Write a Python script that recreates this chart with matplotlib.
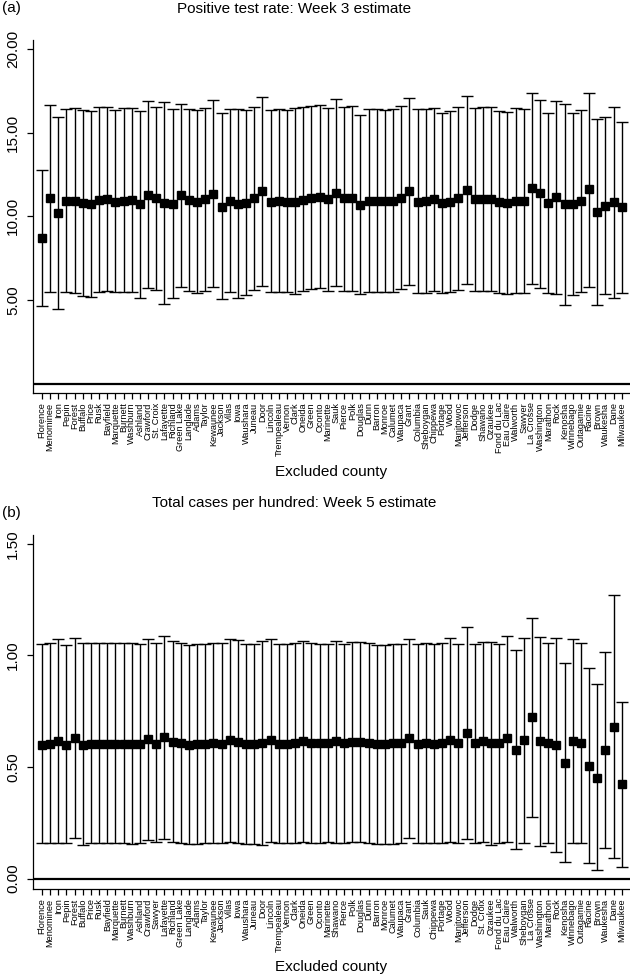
"""
Leave-one-county-out estimates with 95% intervals (two panels).
Writes out.png.
"""

import matplotlib
matplotlib.use("Agg")
import matplotlib.pyplot as plt


counties_a = [
    "Florence", "Menominee", "Iron", "Pepin", "Forest", "Buffalo", "Price", "Rusk",
    "Bayfield", "Marquette", "Burnett", "Washburn", "Ashland", "Crawford", "St. Croix",
    "Lafayette", "Richland", "Green Lake", "Langlade", "Adams", "Taylor", "Kewaunee",
    "Jackson", "Vilas", "Iowa", "Waushara", "Juneau", "Door", "Lincoln", "Trempealeau",
    "Vernon", "Clark", "Oneida", "Green", "Oconto", "Marinette", "Sauk", "Pierce", "Polk",
    "Douglas", "Dunn", "Barron", "Monroe", "Calumet", "Waupaca", "Grant", "Columbia",
    "Sheboygan", "Chippewa", "Portage", "Wood", "Manitowoc", "Jefferson", "Dodge",
    "Shawano", "Ozaukee", "Fond du Lac", "Eau Claire", "Walworth", "Sawyer", "La Crosse",
    "Washington", "Marathon", "Rock", "Kenosha", "Winnebago", "Outagamie", "Racine",
    "Brown", "Waukesha", "Dane", "Milwaukee",
]

est_a = [
    8.73, 11.08, 10.18, 10.94, 10.94, 10.78, 10.74, 10.98, 11.02, 10.88,
    10.94, 10.98, 10.72, 11.28, 11.12, 10.78, 10.72, 11.28, 10.98, 10.84,
    11.02, 11.32, 10.58, 10.94, 10.74, 10.82, 11.08, 11.54, 10.88, 10.92,
    10.88, 10.84, 10.98, 11.12, 11.16, 11.02, 11.42, 11.08, 11.08, 10.70,
    10.94, 10.94, 10.92, 10.92, 11.12, 11.52, 10.88, 10.92, 11.02, 10.82,
    10.88, 11.08, 11.58, 11.02, 11.02, 11.02, 10.88, 10.82, 10.92, 10.92,
    11.68, 11.38, 10.82, 11.18, 10.72, 10.74, 10.92, 11.62, 10.28, 10.62,
    10.88, 10.54,
]

upper_a = [
    12.77, 16.66, 15.96, 16.42, 16.46, 16.36, 16.30, 16.52, 16.52, 16.36,
    16.46, 16.46, 16.30, 16.90, 16.52, 16.82, 16.42, 16.72, 16.42, 16.36,
    16.50, 16.96, 16.16, 16.42, 16.42, 16.38, 16.52, 17.16, 16.36, 16.42,
    16.36, 16.50, 16.54, 16.60, 16.66, 16.50, 17.00, 16.52, 16.60, 16.06,
    16.44, 16.42, 16.36, 16.40, 16.62, 17.06, 16.42, 16.44, 16.46, 16.20,
    16.30, 16.52, 17.20, 16.46, 16.56, 16.52, 16.32, 16.24, 16.46, 16.44,
    17.36, 16.98, 16.16, 16.92, 16.72, 16.20, 16.36, 17.36, 15.84, 15.92,
    16.56, 15.64,
]

lower_a = [
    4.64, 5.46, 4.45, 5.46, 5.44, 5.26, 5.20, 5.48, 5.52, 5.50,
    5.50, 5.50, 5.14, 5.70, 5.60, 4.74, 5.10, 5.80, 5.52, 5.40,
    5.56, 5.76, 5.04, 5.50, 5.10, 5.30, 5.60, 5.86, 5.46, 5.48,
    5.46, 5.34, 5.56, 5.67, 5.70, 5.56, 5.84, 5.56, 5.56, 5.36,
    5.46, 5.46, 5.46, 5.46, 5.64, 5.90, 5.40, 5.44, 5.54, 5.42,
    5.46, 5.58, 5.96, 5.56, 5.52, 5.52, 5.44, 5.38, 5.40, 5.40,
    5.96, 5.74, 5.40, 5.38, 4.72, 5.32, 5.46, 5.80, 4.72, 5.34,
    5.14, 5.44,
]

counties_b = [
    "Florence", "Menominee", "Iron", "Pepin", "Forest", "Buffalo", "Price", "Rusk",
    "Bayfield", "Marquette", "Burnett", "Washburn", "Ashland", "Crawford", "Sawyer",
    "Lafayette", "Richland", "Green Lake", "Langlade", "Adams", "Taylor", "Kewaunee",
    "Jackson", "Vilas", "Iowa", "Waushara", "Juneau", "Door", "Lincoln", "Trempealeau",
    "Vernon", "Clark", "Oneida", "Green", "Oconto", "Marinette", "Shawano", "Pierce",
    "Polk", "Douglas", "Dunn", "Barron", "Monroe", "Calumet", "Waupaca", "Grant",
    "Columbia", "Sauk", "Chippewa", "Portage", "Wood", "Manitowoc", "Jefferson", "Dodge",
    "St. Croix", "Ozaukee", "Fond du Lac", "Eau Claire", "Walworth", "Sheboygan",
    "La Crosse", "Washington", "Marathon", "Rock", "Kenosha", "Winnebago", "Outagamie",
    "Racine", "Brown", "Waukesha", "Dane", "Milwaukee",
]

est_b = [
    0.599, 0.601, 0.618, 0.599, 0.631, 0.599, 0.601, 0.601, 0.601, 0.601,
    0.601, 0.601, 0.601, 0.626, 0.601, 0.633, 0.614, 0.606, 0.599, 0.601,
    0.601, 0.606, 0.603, 0.621, 0.614, 0.601, 0.601, 0.606, 0.621, 0.601,
    0.601, 0.606, 0.617, 0.609, 0.606, 0.606, 0.617, 0.606, 0.614, 0.614,
    0.606, 0.603, 0.603, 0.606, 0.606, 0.631, 0.603, 0.606, 0.603, 0.606,
    0.621, 0.606, 0.654, 0.606, 0.617, 0.606, 0.606, 0.628, 0.576, 0.621,
    0.723, 0.617, 0.609, 0.599, 0.517, 0.617, 0.609, 0.505, 0.452, 0.576,
    0.681, 0.422,
]

upper_b = [
    1.050, 1.055, 1.074, 1.047, 1.080, 1.055, 1.055, 1.055, 1.055, 1.055,
    1.055, 1.055, 1.052, 1.074, 1.055, 1.089, 1.066, 1.056, 1.049, 1.052,
    1.052, 1.055, 1.055, 1.072, 1.070, 1.052, 1.052, 1.065, 1.075, 1.052,
    1.052, 1.055, 1.066, 1.055, 1.052, 1.052, 1.066, 1.052, 1.062, 1.062,
    1.055, 1.049, 1.049, 1.052, 1.052, 1.074, 1.050, 1.055, 1.050, 1.056,
    1.077, 1.052, 1.129, 1.052, 1.062, 1.059, 1.052, 1.087, 1.023, 1.080,
    1.170, 1.084, 1.058, 1.080, 0.965, 1.072, 1.054, 0.943, 0.871, 1.016,
    1.271, 0.790,
]

lower_b = [
    0.158, 0.161, 0.161, 0.158, 0.180, 0.150, 0.158, 0.158, 0.158, 0.158,
    0.158, 0.155, 0.158, 0.173, 0.162, 0.177, 0.162, 0.158, 0.155, 0.155,
    0.158, 0.158, 0.161, 0.162, 0.158, 0.155, 0.155, 0.150, 0.165, 0.158,
    0.158, 0.161, 0.162, 0.161, 0.161, 0.162, 0.161, 0.158, 0.162, 0.164,
    0.158, 0.155, 0.155, 0.155, 0.158, 0.180, 0.158, 0.160, 0.158, 0.161,
    0.165, 0.158, 0.176, 0.161, 0.162, 0.150, 0.158, 0.165, 0.131, 0.161,
    0.277, 0.147, 0.158, 0.120, 0.075, 0.161, 0.161, 0.068, 0.038, 0.135,
    0.091, 0.053,
]

W, H = 630, 977


def draw_panel(fig, rect, counties, est, lower, upper, yticks, ylim,
               title, tag, title_y, tag_y, xlabel_y):
    ax = fig.add_axes(rect)
    x = list(range(1, len(counties) + 1))
    yerr = [
        [e - lo for e, lo in zip(est, lower)],
        [up - e for e, up in zip(est, upper)],
    ]
    ax.errorbar(
        x, est, yerr=yerr, fmt="s", color="black", ms=5.3,
        elinewidth=1.0, capsize=4.5, capthick=1.0,
    )
    ax.axhline(0, color="black", lw=1.6)

    ax.set_xlim(-0.1, 73)
    ax.set_ylim(*ylim)
    ax.set_xticks(x)
    ax.set_xticklabels(counties, rotation=90, fontsize=6.6, va="top", ha="center")
    ax.set_yticks(yticks)
    ax.set_yticklabels([f"{v:.2f}" for v in yticks], rotation=90, fontsize=11, va="center")
    ax.tick_params(axis="x", length=4.3, width=0.9, pad=2.5)
    ax.tick_params(axis="y", length=4.3, width=0.9, pad=5)

    for side in ["top", "right"]:
        ax.spines[side].set_visible(False)
    for side in ["left", "bottom"]:
        ax.spines[side].set_linewidth(0.9)

    fig.text(294 / W, 1 - title_y / H, title, ha="center", va="center", fontsize=11)
    fig.text(2 / W, 1 - tag_y / H, tag, ha="left", va="center", fontsize=11)
    left, bottom, width, height = rect
    fig.text(left + width / 2, 1 - xlabel_y / H, "Excluded county",
             ha="center", va="center", fontsize=11)
    return ax


def main():
    plt.rcParams["font.family"] = ["Liberation Sans", "DejaVu Sans"]

    fig = plt.figure(figsize=(W / 100, H / 100), dpi=100)

    draw_panel(
        fig, [33 / W, 1 - 393 / H, 597 / W, 353 / H],
        counties_a, est_a, lower_a, upper_a,
        [5, 10, 15, 20], (-0.56, 20.54),
        "Positive test rate: Week 3 estimate", "(a)", 9, 8, 472,
    )
    draw_panel(
        fig, [33 / W, 1 - 889 / H, 597 / W, 354 / H],
        counties_b, est_b, lower_b, upper_b,
        [0.0, 0.5, 1.0, 1.5], (-0.047, 1.54),
        "Total cases per hundred: Week 5 estimate", "(b)", 503, 513, 967,
    )

    fig.savefig("out.png", dpi=100)
    plt.close(fig)


if __name__ == "__main__":
    main()
